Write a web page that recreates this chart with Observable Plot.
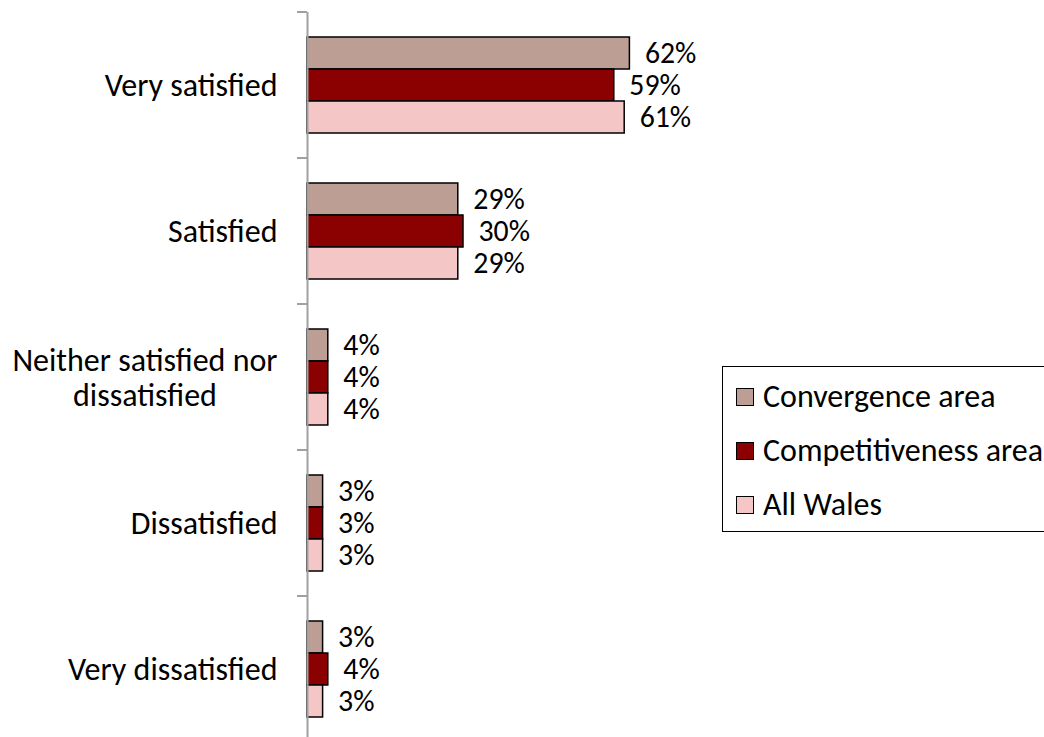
<!DOCTYPE html>
<html><head><meta charset="utf-8">
<script src="https://cdn.jsdelivr.net/npm/d3@7"></script>
<script src="https://cdn.jsdelivr.net/npm/@observablehq/plot@0.6"></script>
<style>
html,body{margin:0;padding:0;background:#fff;overflow:hidden;width:1044px;height:737px}
#wrap{position:relative;width:1044px;height:737px;overflow:hidden}
#legend{position:absolute;left:722px;top:366px;width:340px;height:166px;border:1.5px solid #000;box-sizing:border-box;background:#fff}
.item{position:absolute;left:13px;height:36px;line-height:36px;display:flex;align-items:center;white-space:nowrap;color:#000}
.sw{width:18px;height:18px;border:1.5px solid #000;box-sizing:border-box;margin-right:9px;flex:none}
svg{display:block}
</style></head><body><div id="wrap"></div>
<script>
const categories = ["Very satisfied", "Satisfied", "Neither satisfied nor dissatisfied", "Dissatisfied", "Very dissatisfied"];
const series = ["Convergence area", "Competitiveness area", "All Wales"];
const convergence = [62, 29, 4, 3, 3];
const competitiveness = [59, 30, 4, 3, 4];
const allWales = [61, 29, 4, 3, 3];
const colors = ["#bc9e94", "#8b0000", "#f5c6c6"];
const tickLabels = {"Neither satisfied nor dissatisfied": "Neither satisfied nor\ndissatisfied"};

const FONT = "Carlito, Calibri, Lato, sans-serif";
const ctx = document.createElement("canvas").getContext("2d");
ctx.font = "100px " + FONT;
const fs = +(173 / ctx.measureText("Very satisfied").width * 100).toFixed(1);

const valuesBySeries = [convergence, competitiveness, allWales];
const data = categories.flatMap((c, i) => series.map((s, j) => ({category: c, series: s, value: valuesBySeries[j][i]})));

const plot = Plot.plot({
  width: 1044, height: 742,
  marginTop: 12, marginBottom: 0, marginLeft: 307, marginRight: 217,
  style: {fontFamily: FONT, background: "#fff", color: "#000", overflow: "visible"},
  x: {domain: [0, 100], axis: null},
  y: {domain: series, axis: null, paddingInner: 0, paddingOuter: 0.77},
  fy: {domain: categories, padding: 0, label: null},
  color: {domain: series, range: colors},
  marks: [
    Plot.barX(data, {fy: "category", y: "series", x: "value", fill: "series", stroke: "#000", strokeWidth: 1.5}),
    Plot.text(data, {fy: "category", y: "series", x: "value", text: d => d.value + "%", textAnchor: "start", dx: 15, fontSize: fs * 0.93, fill: "#000"}),
    Plot.ruleX([0], {stroke: "#a0a0a0", strokeWidth: 2}),
    Plot.axisFy({anchor: "left", label: null, tickSize: 0, tickPadding: 30, fontSize: fs, lineHeight: 1.07, fill: "#000", tickFormat: d => tickLabels[d] ?? d})
  ]
});

// category boundary ticks on the axis
const fyS = plot.scale("fy"), xS = plot.scale("x");
const x0 = xS.apply(0);
const bounds = categories.map(c => fyS.apply(c)).concat([fyS.apply(categories[categories.length - 1]) + fyS.bandwidth]);
d3.select(plot).append("g").selectAll("line").data(bounds).join("line")
  .attr("x1", x0 - 10).attr("x2", x0).attr("y1", d => d).attr("y2", d => d)
  .attr("stroke", "#a0a0a0").attr("stroke-width", 2);

document.getElementById("wrap").appendChild(plot);

// center multi-line category labels within their block (Excel style)
d3.select(plot).selectAll("text").each(function() {
  const tspans = this.querySelectorAll("tspan");
  if (tspans.length > 1) {
    const maxW = d3.max(Array.from(tspans), t => t.getComputedTextLength());
    this.setAttribute("text-anchor", "middle");
    tspans.forEach(t => t.setAttribute("x", -maxW / 2));
  }
});

// legend
const legend = document.createElement("div");
legend.id = "legend";
legend.style.fontFamily = FONT;
legend.style.fontSize = fs + "px";
series.forEach((s, i) => {
  const item = document.createElement("div");
  item.className = "item";
  item.style.top = (12 + i * 54) + "px";
  const sw = document.createElement("span");
  sw.className = "sw";
  sw.style.background = colors[i];
  item.appendChild(sw);
  item.appendChild(document.createTextNode(s));
  legend.appendChild(item);
});
document.getElementById("wrap").appendChild(legend);
</script>
</body></html>
